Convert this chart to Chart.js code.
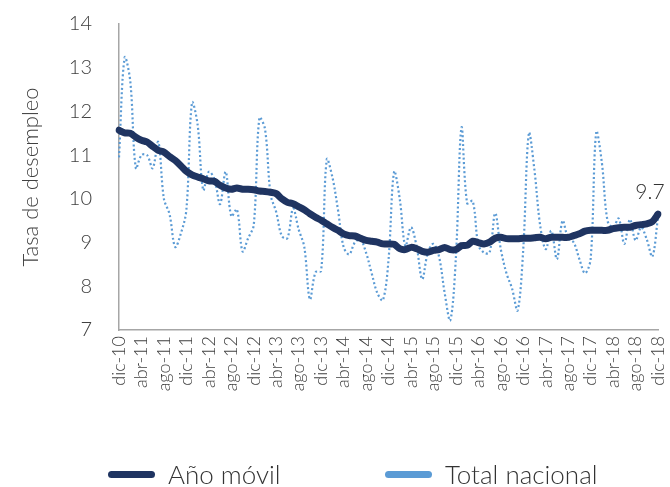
<!DOCTYPE html>
<html><head><meta charset="utf-8">
<script src="https://cdn.jsdelivr.net/npm/chart.js@4.4.0/dist/chart.umd.min.js"></script>
<style>
html,body{margin:0;padding:0;background:#fff;}
#wrap{position:relative;width:670px;height:487px;overflow:hidden;}
canvas{position:absolute;left:0;top:0;}
.leg{position:absolute;display:flex;align-items:center;font-family:Lato,sans-serif;font-weight:300;font-size:26px;color:#333;height:30px;top:459px;white-space:nowrap;}
.sw{display:inline-block;width:47px;height:7px;border-radius:3.5px;margin-right:13px;}
</style></head><body>
<div id="wrap"><canvas id="c" width="670" height="487"></canvas>
<div class="leg" style="left:108px"><span class="sw" style="background:#1f3461"></span><span id="l0"></span></div>
<div class="leg" style="left:385px"><span class="sw" style="background:#5b9bd5"></span><span id="l1"></span></div>
</div>
<script>
const categories = [
 "dic-10",
 "ene-11","feb-11","mar-11","abr-11","may-11","jun-11","jul-11","ago-11","sep-11","oct-11","nov-11","dic-11",
 "ene-12","feb-12","mar-12","abr-12","may-12","jun-12","jul-12","ago-12","sep-12","oct-12","nov-12","dic-12",
 "ene-13","feb-13","mar-13","abr-13","may-13","jun-13","jul-13","ago-13","sep-13","oct-13","nov-13","dic-13",
 "ene-14","feb-14","mar-14","abr-14","may-14","jun-14","jul-14","ago-14","sep-14","oct-14","nov-14","dic-14",
 "ene-15","feb-15","mar-15","abr-15","may-15","jun-15","jul-15","ago-15","sep-15","oct-15","nov-15","dic-15",
 "ene-16","feb-16","mar-16","abr-16","may-16","jun-16","jul-16","ago-16","sep-16","oct-16","nov-16","dic-16",
 "ene-17","feb-17","mar-17","abr-17","may-17","jun-17","jul-17","ago-17","sep-17","oct-17","nov-17","dic-17",
 "ene-18","feb-18","mar-18","abr-18","may-18","jun-18","jul-18","ago-18","sep-18","oct-18","nov-18","dic-18"
];
const anoMovil = [
 11.57,
 11.51,11.50,11.41,11.34,11.30,11.20,11.11,11.07,10.97,10.88,10.76,10.63,
 10.55,10.50,10.46,10.41,10.40,10.31,10.25,10.22,10.25,10.22,10.22,10.21,
 10.18,10.17,10.15,10.12,10.00,9.92,9.89,9.82,9.75,9.66,9.58,9.51,
 9.43,9.35,9.28,9.20,9.16,9.15,9.10,9.05,9.03,9.01,8.97,8.97,
 8.96,8.86,8.84,8.89,8.86,8.80,8.78,8.82,8.84,8.89,8.84,8.84,
 8.93,8.94,9.03,9.00,8.97,9.01,9.10,9.12,9.09,9.09,9.09,9.10,
 9.10,9.11,9.12,9.09,9.12,9.12,9.12,9.12,9.16,9.20,9.26,9.28,
 9.28,9.28,9.28,9.32,9.34,9.35,9.35,9.39,9.41,9.43,9.48,9.65
];
const totalNacional = [
 10.95,
 13.23,12.70,10.70,11.00,11.00,10.70,11.30,10.00,9.65,8.90,9.20,9.75,
 12.20,11.70,10.20,10.62,10.45,9.88,10.62,9.60,9.76,8.80,9.10,9.40,
 11.85,11.60,10.10,9.70,9.15,9.10,9.78,9.30,8.90,7.70,8.32,8.35,
 10.90,10.50,9.75,8.90,8.73,9.00,9.07,8.77,8.30,7.85,7.68,8.60,
 10.62,10.00,8.92,9.35,8.92,8.16,8.77,8.97,8.68,7.85,7.22,8.65,
 11.63,9.90,9.95,8.95,8.77,8.77,9.67,8.85,8.30,7.95,7.45,8.85,
 11.50,10.65,9.40,8.85,9.27,8.62,9.50,9.10,9.00,8.62,8.30,8.62,
 11.53,10.83,9.50,9.35,9.55,8.97,9.53,9.05,9.35,9.07,8.68,9.58
];
const seriesNames = ["Año móvil","Total nacional"];
const yTitle = "Tasa de desempleo";
const yTicks = [7,8,9,10,11,12,13,14];

document.getElementById('l0').textContent = seriesNames[0];
document.getElementById('l1').textContent = seriesNames[1];

const endLabel = {
  id:'endLabel',
  afterDatasetsDraw(chart){
    const meta = chart.getDatasetMeta(0);
    const pt = meta.data[meta.data.length-1];
    const ctx = chart.ctx;
    ctx.save();
    ctx.font = '300 21px Lato';
    ctx.fillStyle = '#333';
    ctx.textAlign = 'center';
    ctx.textBaseline = 'middle';
    ctx.fillText(anoMovil[anoMovil.length-1].toFixed(1), pt.x-8, pt.y-22);
    ctx.restore();
  }
};

function draw(){
  const ctx = document.getElementById('c').getContext('2d');
  new Chart(ctx, {
    type:'line',
    data:{labels:categories, datasets:[
      {label:seriesNames[0], data:anoMovil, borderColor:'#1f3461', backgroundColor:'#1f3461',
       borderWidth:7, pointRadius:0, tension:0.3, borderCapStyle:'round', borderJoinStyle:'round', fill:false},
      {label:seriesNames[1], data:totalNacional, borderColor:'#5b9bd5', backgroundColor:'#5b9bd5',
       borderWidth:2.2, borderDash:[2,2.5], pointRadius:0, tension:0.35, fill:false}
    ]},
    options:{
      responsive:false, animation:false, devicePixelRatio:1,
      layout:{padding:{top:24,right:12,left:0,bottom:0}},
      plugins:{legend:{display:false}, tooltip:{enabled:false}},
      scales:{
        x:{
          grid:{display:false, drawTicks:false},
          border:{display:true, color:'#a6a6a6', width:1.5},
          ticks:{autoSkip:false, minRotation:90, maxRotation:90, padding:6, color:'#404040',
            font:{family:'Lato', size:18, weight:300},
            callback:(v,i)=> i%4===0 ? categories[i] : ''},
          afterFit:s=>{s.height=157; s.paddingLeft=0; s.paddingRight=0;}
        },
        y:{
          min:yTicks[0], max:yTicks[yTicks.length-1],
          grid:{display:false, drawTicks:false},
          border:{display:true, color:'#a6a6a6', width:1.5},
          afterBuildTicks:s=>{s.ticks = yTicks.map(v=>({value:v}));},
          ticks:{padding:27, color:'#404040', font:{family:'Lato', size:20, weight:300}},
          title:{display:true, text:yTitle, color:'#404040', font:{family:'Lato', size:22, weight:300}, padding:{top:18,bottom:0}},
          afterFit:s=>{s.width=119; s.paddingTop=0; s.paddingBottom=0;}
        }
      }
    },
    plugins:[endLabel]
  });
}
if (document.fonts && document.fonts.load) {
  Promise.all([document.fonts.load('300 16px Lato'), document.fonts.load('16px Lato')]).then(draw, draw);
} else draw();
</script>
</body></html>
